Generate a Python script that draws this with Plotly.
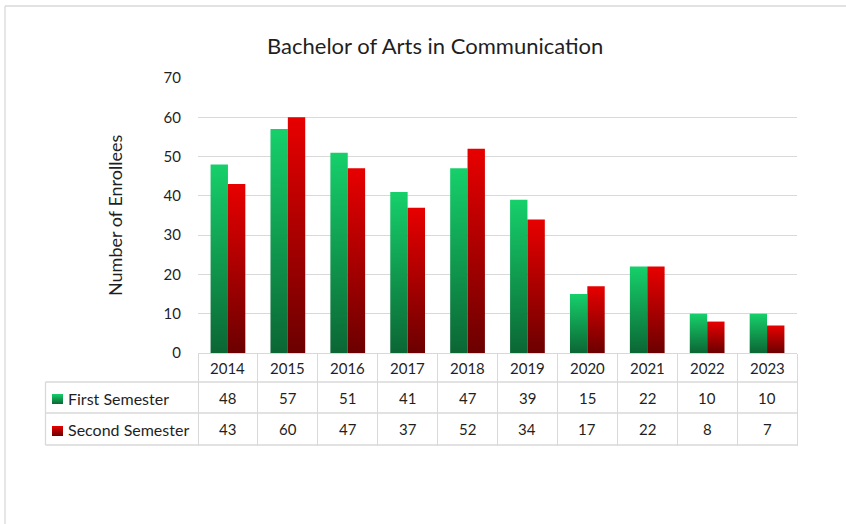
import plotly.graph_objects as go

years = ["2014", "2015", "2016", "2017", "2018", "2019", "2020", "2021", "2022", "2023"]
first_sem = [48, 57, 51, 41, 47, 39, 15, 22, 10, 10]
second_sem = [43, 60, 47, 37, 52, 34, 17, 22, 8, 7]
series_names = ["First Semester", "Second Semester"]
title_text = "Bachelor of Arts in Communication"
y_title = "Number of Enrollees"

FONT = "Lato, Open Sans, sans-serif"
TXT = "#1f1f1f"
GRID = "#d9d9d9"
GREEN_KEY = "rgb(17,160,82)"
RED_KEY = "rgb(171,0,0)"

fig = go.Figure()
fig.add_trace(go.Bar(x=years, y=first_sem, name=series_names[0],
                     marker=dict(color=GREEN_KEY, line=dict(width=0))))
fig.add_trace(go.Bar(x=years, y=second_sem, name=series_names[1],
                     marker=dict(color=RED_KEY, line=dict(width=0))))

W, H = 846, 524
L, R, T, B = 198, 49, 78, 171
pw, ph = W - L - R, H - T - B

def px(xp):
    return (xp - L) / pw

def py(yp):
    return (H - B - yp) / ph

annotations = []
shapes = []

# title
annotations.append(dict(text=title_text, x=px(435), y=py(46), xref="paper", yref="paper",
                        showarrow=False, font=dict(size=22, color=TXT, family=FONT),
                        xanchor="center", yanchor="middle"))
# y title
annotations.append(dict(text=y_title, x=px(115), y=py(216), xref="paper", yref="paper",
                        showarrow=False, textangle=-90, font=dict(size=18, color=TXT, family=FONT),
                        xanchor="center", yanchor="middle"))

# data table text
row_y = [py(368), py(398), py(429)]
for i, yr in enumerate(years):
    for r, txt in enumerate([yr, str(first_sem[i]), str(second_sem[i])]):
        annotations.append(dict(text=txt, x=i, y=row_y[r], xref="x", yref="paper", showarrow=False,
                                font=dict(size=15, color=TXT, family=FONT),
                                xanchor="center", yanchor="middle"))

for k, nm in enumerate(series_names):
    annotations.append(dict(text=nm, x=px(66), y=row_y[k + 1], xref="paper", yref="paper", showarrow=False,
                            font=dict(size=16, color=TXT, family=FONT), xanchor="left", yanchor="middle"))

# key squares
shapes.append(dict(type="rect", xref="paper", yref="paper", x0=px(52), x1=px(63), y0=py(394), y1=py(404),
                   fillcolor=GREEN_KEY, line=dict(width=0), layer="above"))
shapes.append(dict(type="rect", xref="paper", yref="paper", x0=px(52), x1=px(63), y0=py(426), y1=py(436),
                   fillcolor=RED_KEY, line=dict(width=0), layer="above"))

# table horizontal lines
for yy in [382, 413, 445]:
    shapes.append(dict(type="line", xref="paper", yref="paper", x0=px(45.5), x1=1, y0=py(yy), y1=py(yy),
                       line=dict(color=GRID, width=1.3)))
# left column vertical
shapes.append(dict(type="line", xref="paper", yref="paper", x0=px(45.5), x1=px(45.5), y0=py(382), y1=py(445),
                   line=dict(color=GRID, width=1.3)))

# outer chart border (partially visible)
shapes.append(dict(type="line", xref="paper", yref="paper", x0=px(5), x1=px(900), y0=py(6), y1=py(6),
                   line=dict(color=GRID, width=1.3)))
shapes.append(dict(type="line", xref="paper", yref="paper", x0=px(5), x1=px(5), y0=py(6), y1=py(600),
                   line=dict(color=GRID, width=1.3)))

fig.update_layout(
    width=W, height=H,
    margin=dict(l=L, r=R, t=T, b=B, pad=0),
    paper_bgcolor="white", plot_bgcolor="white",
    barmode="group", bargap=0.42, bargroupgap=0,
    showlegend=False,
    font=dict(family=FONT, color=TXT, size=15),
    annotations=annotations, shapes=shapes,
    xaxis=dict(type="category", range=[-0.5, len(years) - 0.5], autorange=False,
               showticklabels=False, ticks="outside", tickson="boundaries",
               ticklen=92, tickcolor=GRID, tickwidth=1.3, showline=True, linecolor=GRID, linewidth=1.3,
               showgrid=False, zeroline=False, fixedrange=True),
    yaxis=dict(range=[0, 70], autorange=False, dtick=10, showgrid=True, gridcolor=GRID, gridwidth=1.3,
               zeroline=False, showline=False, ticks="", ticklabelstandoff=16,
               tickfont=dict(size=15, color=TXT, family=FONT), fixedrange=True),
)

post = """
document.body.style.margin = '0';
document.body.style.padding = '0';
var gd = document.getElementById('{plot_id}');
function addGrad(){
  var svg = gd.querySelector('svg.main-svg');
  if (!svg) return;
  var ns = 'http://www.w3.org/2000/svg';
  if (!document.getElementById('gradGreen')) {
    var defs = document.createElementNS(ns, 'defs');
    function mk(id, c1, c2){
      var g = document.createElementNS(ns, 'linearGradient');
      g.setAttribute('id', id); g.setAttribute('x1','0'); g.setAttribute('y1','0');
      g.setAttribute('x2','0'); g.setAttribute('y2','1');
      var s1 = document.createElementNS(ns, 'stop'); s1.setAttribute('offset','0'); s1.setAttribute('stop-color', c1);
      var s2 = document.createElementNS(ns, 'stop'); s2.setAttribute('offset','1'); s2.setAttribute('stop-color', c2);
      g.appendChild(s1); g.appendChild(s2); defs.appendChild(g);
    }
    mk('gradGreen', '#16d06b', '#0b6634');
    mk('gradRed', '#e80000', '#6c0000');
    svg.insertBefore(defs, svg.firstChild);
  }
  var traces = gd.querySelectorAll('g.trace.bars');
  traces.forEach(function(t, i){
    t.querySelectorAll('path').forEach(function(p){
      p.style.fill = i === 0 ? 'url(#gradGreen)' : 'url(#gradRed)';
    });
  });
  gd.querySelectorAll('.shapelayer path').forEach(function(p){
    var f = p.style.fill.replace(/\\s/g,'');
    if (f === 'rgb(17,160,82)') p.style.fill = 'url(#gradGreen)';
    if (f === 'rgb(171,0,0)') p.style.fill = 'url(#gradRed)';
  });
}
addGrad();
if (gd.on) gd.on('plotly_afterplot', addGrad);
"""

fig.write_html("out.html", post_script=post, config={"displayModeBar": False})
